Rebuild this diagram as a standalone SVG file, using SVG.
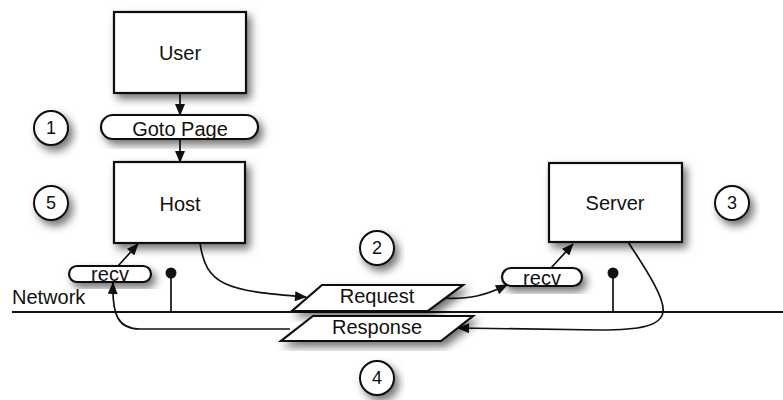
<svg xmlns="http://www.w3.org/2000/svg" width="783" height="400" viewBox="0 0 783 400">
<style>
.box{fill:#fff;stroke:#111;stroke-width:2.2;filter:url(#sh)}
.pill{fill:#fff;stroke:#111;stroke-width:2.2;filter:url(#sh)}
.num{fill:#fff;stroke:#111;stroke-width:2;filter:url(#sh)}
.t{font-family:"Liberation Sans",Arial,sans-serif;font-size:20px;fill:#111;text-anchor:middle}
.n{font-family:"Liberation Sans",Arial,sans-serif;font-size:18px;fill:#111;text-anchor:middle}
.c{fill:none;stroke:#111;stroke-width:1.7}
.a{marker-end:url(#ah)}
</style>
<defs>
<filter id="sh" x="-30%" y="-30%" width="160%" height="170%">
<feDropShadow dx="4" dy="5" stdDeviation="4" flood-color="#000" flood-opacity="0.55"/>
</filter>
<marker id="ah" viewBox="0 0 12 10" refX="11" refY="5" markerWidth="13" markerHeight="10" markerUnits="userSpaceOnUse" orient="auto">
<path d="M0,0 L12,5 L0,10 Z" fill="#111"/>
</marker>
</defs>
<rect width="783" height="400" fill="#fff"/>
<text x="12" y="304" class="t" style="text-anchor:start">Network</text>
<line x1="12" y1="312" x2="783" y2="312" stroke="#111" stroke-width="1.8"/>
<g id="connectors">
<path class="c a" d="M180 93 L180 115"/>
<path class="c a" d="M180 139 L180 162"/>
<path class="c a" d="M118 266 L138 244"/>
<path class="c a" d="M200 243 C206 285 225 291 306 297"/>
<path class="c a" d="M440 298 C470 300 486 295 507 285"/>
<path class="c a" d="M551 268 L573 244"/>
<path class="c a" d="M628 242 C650 275 665 300 663 312 C661 326 640 330 600 330 L458 328"/>
<path class="c a" d="M290 329 L140 329 C118 329 112 315 113 283"/>
<line x1="171" y1="273" x2="171" y2="312" stroke="#111" stroke-width="1.7"/>
<circle cx="171" cy="273" r="5.5" fill="#111"/>
<line x1="613" y1="273" x2="613" y2="312" stroke="#111" stroke-width="1.7"/>
<circle cx="613" cy="273" r="5.5" fill="#111"/>
</g>
<g id="user"><rect class="box" x="114" y="12" width="132" height="81"/><text class="t" x="180" y="60">User</text></g>
<g id="goto"><rect class="pill" x="101" y="115" width="157" height="24" rx="12"/><text class="t" x="180" y="136">Goto Page</text></g>
<g id="host"><rect class="box" x="114" y="162" width="131" height="81"/><text class="t" x="180" y="211">Host</text></g>
<g id="server"><rect class="box" x="549" y="163" width="133" height="79"/><text class="t" x="615" y="210">Server</text></g>
<g id="recv1"><rect class="pill" x="69" y="266" width="82" height="16" rx="8"/><text class="t" x="110" y="281">recv</text></g>
<g id="recv2"><rect class="pill" x="502" y="268" width="80" height="18" rx="9"/><text class="t" x="542" y="285">recv</text></g>
<g id="request"><polygon class="box" points="322,285 463,285 428,311 292,311"/><text class="t" x="377" y="303">Request</text></g>
<g id="response"><polygon class="box" points="313,316 473,316 441,341 281,341"/><text class="t" x="377" y="334">Response</text></g>
<g id="n1"><circle class="num" cx="51" cy="128" r="17"/><text class="n" x="51" y="134">1</text></g>
<g id="n5"><circle class="num" cx="51" cy="203" r="17"/><text class="n" x="51" y="209">5</text></g>
<g id="n2"><circle class="num" cx="377" cy="248" r="17"/><text class="n" x="377" y="254">2</text></g>
<g id="n3"><circle class="num" cx="732" cy="203" r="17"/><text class="n" x="732" y="209">3</text></g>
<g id="n4"><circle class="num" cx="377" cy="378" r="17"/><text class="n" x="377" y="384">4</text></g>
</svg>
